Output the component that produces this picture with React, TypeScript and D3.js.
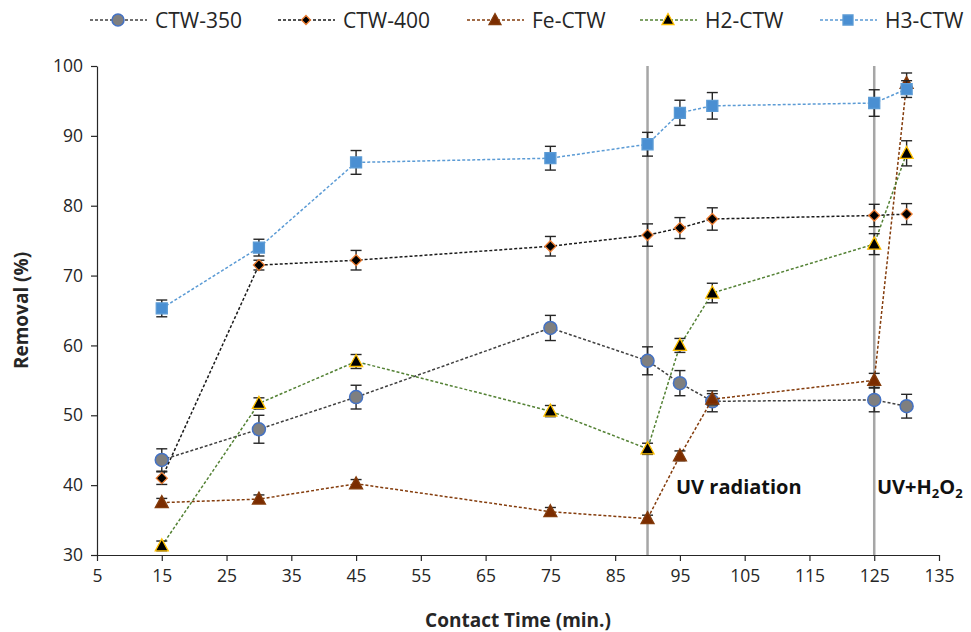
import React, { useEffect, useRef } from 'react';
import * as d3 from 'd3';

const times = [15, 30, 45, 75, 90, 95, 100, 125, 130];

const ctw350 = [43.6, 48.0, 52.6, 62.5, 57.8, 54.6, 52.0, 52.2, 51.3];
const ctw350Err = [1.6, 2.0, 1.7, 1.8, 2.0, 1.8, 1.5, 1.7, 1.7];
const ctw400 = [41.0, 71.5, 72.2, 74.2, 75.8, 76.8, 78.1, 78.6, 78.8];
const ctw400Err = [0.9, 0.7, 1.4, 1.4, 1.6, 1.5, 1.6, 1.6, 1.5];
const feCtw = [37.5, 38.0, 40.2, 36.2, 35.2, 44.2, 52.3, 55.0, 97.5];
const feCtwErr = [0.6, 0.6, 0.6, 0.6, 0.5, 0.7, 0.8, 1.0, 1.5];
const h2Ctw = [31.3, 51.7, 57.7, 50.6, 45.2, 60.0, 67.5, 74.5, 87.5];
const h2CtwErr = [0.7, 0.8, 1.0, 0.8, 0.8, 1.0, 1.4, 1.5, 1.8];
const h3Ctw = [65.3, 74.0, 86.2, 86.8, 88.8, 93.3, 94.3, 94.7, 96.7];
const h3CtwErr = [1.2, 1.2, 1.7, 1.7, 1.7, 1.8, 1.9, 1.9, 1.2];

const xTicks = [5, 15, 25, 35, 45, 55, 65, 75, 85, 95, 105, 115, 125, 135];
const yTicks = [30, 40, 50, 60, 70, 80, 90, 100];
const markers = [90, 125];

type Series = {
  name: string;
  values: number[];
  err: number[];
  line: string;
  shape: string;
  fill: string;
  stroke: string;
};

const series: Series[] = [
  { name: 'CTW-350', values: ctw350, err: ctw350Err, line: '#404040', shape: 'circle', fill: '#7f7f7f', stroke: '#4472c4' },
  { name: 'CTW-400', values: ctw400, err: ctw400Err, line: '#1a1a1a', shape: 'diamond', fill: '#000000', stroke: '#ed7d31' },
  { name: 'Fe-CTW', values: feCtw, err: feCtwErr, line: '#843c0c', shape: 'triangle', fill: '#7b2c00', stroke: '#843c0c' },
  { name: 'H2-CTW', values: h2Ctw, err: h2CtwErr, line: '#548235', shape: 'triangle', fill: '#000000', stroke: '#ffc000' },
  { name: 'H3-CTW', values: h3Ctw, err: h3CtwErr, line: '#5b9bd5', shape: 'square', fill: '#4a8fd2', stroke: '#5b9bd5' },
];

const font = "'Open Sans', sans-serif";

const App = () => {
  const ref = useRef<SVGSVGElement>(null);

  useEffect(() => {
    const svg = d3.select(ref.current);
    svg.selectAll('*').remove();

    const left = 97, right = 939, top = 66, bottom = 555;
    const x = d3.scaleLinear().domain([5, 135]).range([left, right]);
    const y = d3.scaleLinear().domain([30, 100]).range([bottom, top]);

    const drawMarker = (g: any, s: Series, cx: number, cy: number, size: number) => {
      const h = size / 2;
      if (s.shape === 'circle') {
        g.append('circle').attr('cx', cx).attr('cy', cy).attr('r', h + 0.5)
          .attr('fill', s.fill).attr('stroke', s.stroke).attr('stroke-width', 1.5);
        return;
      }
      let d = '';
      if (s.shape === 'diamond') {
        const r = h - 0.5;
        d = `M${cx},${cy - r}L${cx + r},${cy}L${cx},${cy + r}L${cx - r},${cy}Z`;
      } else if (s.shape === 'square') {
        const r = h - 0.5;
        d = `M${cx - r},${cy - r}H${cx + r}V${cy + r}H${cx - r}Z`;
      } else {
        d = `M${cx},${cy - h - 1}L${cx + h + 0.5},${cy + h - 1}L${cx - h - 0.5},${cy + h - 1}Z`;
      }
      g.append('path').attr('d', d)
        .attr('fill', s.fill).attr('stroke', s.stroke).attr('stroke-width', 1.3);
    };

    // vertical condition markers
    markers.forEach(m => {
      svg.append('line')
        .attr('x1', x(m)).attr('x2', x(m)).attr('y1', top).attr('y2', bottom)
        .attr('stroke', '#a6a6a6').attr('stroke-width', 2.5);
    });

    // axes
    const xAxis = svg.append('g').attr('transform', `translate(0,${bottom})`)
      .call(d3.axisBottom(x).tickValues(xTicks).tickSize(6).tickSizeOuter(0).tickPadding(9));
    const yAxis = svg.append('g').attr('transform', `translate(${left},0)`)
      .call(d3.axisLeft(y).tickValues(yTicks).tickSize(6).tickSizeOuter(0).tickPadding(8));
    [xAxis, yAxis].forEach(a => {
      a.select('.domain').attr('stroke', '#262626').attr('stroke-width', 1.2);
      a.selectAll('.tick line').attr('stroke', '#262626').attr('stroke-width', 1.2);
      a.selectAll('.tick text').attr('font-family', font).attr('font-size', 17.5).attr('fill', '#262626');
    });

    // lines, error bars, markers
    series.forEach(s => {
      const pts = times.map((t, i) => [x(t), y(s.values[i])] as [number, number]);
      svg.append('path')
        .attr('d', d3.line()(pts))
        .attr('fill', 'none')
        .attr('stroke', s.line)
        .attr('stroke-width', 1.5)
        .attr('stroke-dasharray', '3,2');

      const g = svg.append('g');
      times.forEach((t, i) => {
        const cx = x(t);
        const hi = y(s.values[i] + s.err[i]);
        const lo = y(s.values[i] - s.err[i]);
        g.append('line').attr('x1', cx).attr('x2', cx).attr('y1', hi).attr('y2', lo)
          .attr('stroke', '#262626').attr('stroke-width', 1.4);
        [hi, lo].forEach(v => {
          g.append('line').attr('x1', cx - 5.5).attr('x2', cx + 5.5).attr('y1', v).attr('y2', v)
            .attr('stroke', '#262626').attr('stroke-width', 1.4);
        });
      });
      times.forEach((t, i) => drawMarker(svg, s, x(t), y(s.values[i]), 12));
    });

    // legend
    const legendX = [90, 278, 467, 640, 820];
    series.forEach((s, i) => {
      const lx = legendX[i];
      svg.append('line').attr('x1', lx).attr('x2', lx + 57).attr('y1', 20).attr('y2', 20)
        .attr('stroke', s.line).attr('stroke-width', 1.5).attr('stroke-dasharray', '3,2');
      drawMarker(svg, s, lx + 28, 20, s.shape === 'diamond' ? 10 : 11);
      svg.append('text').attr('x', lx + 65).attr('y', 28)
        .attr('font-family', font).attr('font-size', 21).attr('fill', '#262626')
        .text(s.name);
    });

    // axis titles
    svg.append('text')
      .attr('transform', `translate(28,${(top + bottom) / 2}) rotate(-90)`)
      .attr('text-anchor', 'middle')
      .attr('font-family', font).attr('font-size', 19).attr('font-weight', 'bold').attr('fill', '#262626')
      .text('Removal (%)');
    svg.append('text')
      .attr('x', 518).attr('y', 627)
      .attr('text-anchor', 'middle')
      .attr('font-family', font).attr('font-size', 19).attr('font-weight', 'bold').attr('fill', '#262626')
      .text('Contact Time (min.)');

    // annotations
    svg.append('text').attr('x', 676).attr('y', 494)
      .attr('font-family', font).attr('font-size', 20).attr('font-weight', 'bold').attr('fill', '#111')
      .text('UV radiation');
    const t2 = svg.append('text').attr('x', 877).attr('y', 494)
      .attr('font-family', font).attr('font-size', 20).attr('font-weight', 'bold').attr('fill', '#111');
    t2.append('tspan').text('UV+H');
    t2.append('tspan').attr('font-size', 13).attr('dy', 4).text('2');
    t2.append('tspan').attr('dy', -4).text('O');
    t2.append('tspan').attr('font-size', 13).attr('dy', 4).text('2');
  }, []);

  return (
    <svg ref={ref} width={971} height={632}
      style={{ position: 'absolute', left: 0, top: 0, background: '#fff' }} />
  );
};

export default App;
